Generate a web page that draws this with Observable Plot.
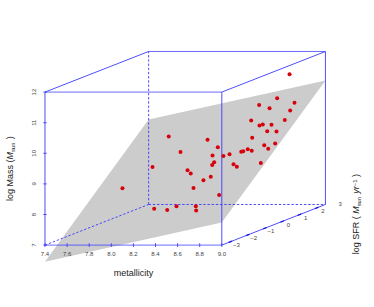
<!DOCTYPE html>
<html><head><meta charset="utf-8">
<script src="https://cdn.jsdelivr.net/npm/d3@7"></script>
<script src="https://cdn.jsdelivr.net/npm/@observablehq/plot@0.6"></script>
<style>html,body{margin:0;padding:0;background:#fff}svg{display:block}</style>
</head><body><div id="chart"></div>
<script>
// Axis ticks
const metTicks = [7.4,7.6,7.8,8.0,8.2,8.4,8.6,8.8,9.0];
const metLabels = ["7.4","7.6","7.8","8.0","8.2","8.4","8.6","8.8","9.0"];
const massTicks = [7,8,9,10,11,12];
const sfrTicks = [-3,-2,-1,0,1,2,3];
// Fitted plane: corners (metallicity, log SFR, log Mass)
const planeMet  = [7.4,7.4,9.0,9.0];
const planeSfr  = [-3,3,3,-3];
const planeMass = [6.46,9.78,11.05,7.74];
// Galaxies: position read on the front face of the box (projected metallicity, projected log mass)
const galaxyMet = [8.520,8.626,8.373,8.690,8.101,8.388,8.506,8.590,9.613,9.501,9.338,9.658,9.432,9.619,9.266,9.570,9.371,9.341,9.450,9.411,9.495,9.275,8.871,9.483,9.384,8.964,9.420,9.235,9.271,9.194,9.176,9.070,9.015,8.916,8.931,8.913,9.106,9.136,9.353,8.719,8.834,8.900,8.744,8.976,8.765,8.768];
const galaxyMass = [10.55,10.04,9.55,9.45,8.86,8.19,8.15,8.27,12.58,11.80,11.58,11.65,11.47,11.40,11.07,11.09,10.94,10.91,10.93,10.72,10.71,10.51,10.44,10.32,10.26,10.20,10.15,10.13,10.08,10.07,10.05,9.97,9.91,9.93,9.71,9.62,9.64,9.56,9.68,9.34,9.12,9.23,8.87,8.64,8.27,8.13];

// oblique projection of the SFR axis onto metallicity / mass
const U = (met,sfr) => met + (sfr+3)*0.1563;
const V = (mass,sfr) => mass + (sfr+3)*0.2212;
const seg = (a,b) => ({x1:U(a[0],a[2]),y1:V(a[1],a[2]),x2:U(b[0],b[2]),y2:V(b[1],b[2])});
const blue = "#3a3aff";
const L=7.4,R=9.0,B=7,T=12,F=-3,K=3;
const solid = [
  seg([L,B,F],[L,T,F]), seg([R,B,F],[R,T,F]),
  seg([L,T,F],[L,T,K]), seg([R,T,F],[R,T,K]), seg([R,B,F],[R,B,K]),
  seg([R,B,K],[R,T,K])
];
const pale = [ seg([L,B,F],[R,B,F]), seg([L,T,F],[R,T,F]), seg([L,T,K],[R,T,K]) ];
const dashed = [ seg([L,B,F],[L,B,K]), seg([L,B,K],[R,B,K]), seg([L,B,K],[L,T,K]) ];
const linkOpts = {x1:"x1",y1:"y1",x2:"x2",y2:"y2",stroke:blue};
const font = "Liberation Sans, Helvetica, Arial, sans-serif";

const plot = Plot.plot({
  width:374, height:307, margin:0,
  x:{domain:[6.9973,10.3819],range:[0,374],axis:null},
  y:{domain:[4.961,14.993],range:[307,0],axis:null},
  style:{background:"#fff",fontFamily:font},
  marks:[
    Plot.line(planeMet.map((m,i)=>({x:U(m,planeSfr[i]),y:V(planeMass[i],planeSfr[i])})),{x:"x",y:"y",fill:"#cccccc",stroke:"none"}),
    Plot.link(dashed,{...linkOpts,strokeWidth:0.9,strokeDasharray:"2.4,1.8"}),
    Plot.link(solid,{...linkOpts,strokeWidth:0.9}),
    Plot.link(pale,{...linkOpts,strokeWidth:1,strokeOpacity:0.75}),
    Plot.link(metTicks,{x1:d=>d,x2:d=>d,y1:()=>B-0.06,y2:()=>B+0.06,stroke:blue,strokeWidth:0.9}),
    Plot.link(massTicks,{x1:()=>L-0.015,x2:()=>L+0.015,y1:d=>d,y2:d=>d,stroke:blue,strokeWidth:0.9}),
    Plot.link(sfrTicks.slice(0,-1),{x1:d=>U(R,d+0.4),x2:d=>U(R,d+0.6),y1:d=>V(B,d+0.4),y2:d=>V(B,d+0.6),stroke:"#1a1ae0",strokeWidth:1.3}),
    Plot.dot(galaxyMet.map((m,i)=>({x:m,y:galaxyMass[i]})),{x:"x",y:"y",r:2,fill:"#d8000a",stroke:"none"}),
    Plot.text(metTicks,{x:d=>d,y:()=>B,text:(d,i)=>metLabels[i],dy:8.6,fontSize:6,fill:"#444"}),
    Plot.text(massTicks,{x:()=>L-0.1,y:d=>d,text:d=>String(d),rotate:-90,fontSize:6,fill:"#444"}),
    Plot.text(sfrTicks,{x:d=>U(R,d)+0.133,y:d=>V(B,d),text:d=>d<0?"\u2212"+(-d):String(d),fontSize:6,fill:"#444"}),
    Plot.text(["metallicity"],{x:()=>8.2,y:()=>6.1,text:d=>d,fontSize:9,fill:"#222"}),
    Plot.text(["log Mass"],{x:()=>7.088,y:()=>9.5,text:d=>d,rotate:-90,fontSize:9,fill:"#222"}),
    Plot.text(["log SFR"],{x:()=>10.219,y:()=>8.01,text:d=>d,rotate:-90,fontSize:9,fill:"#222"})
  ]
});
const sub = (s)=>`<tspan font-size="5.8" dy="1.6">${s}</tspan><tspan dy="-1.6">\u200a</tspan>`;
plot.querySelectorAll("text").forEach(t=>{
  if(t.textContent==="log Mass") t.innerHTML=`log Mass (<tspan font-style="italic">M</tspan>${sub("sun")} )`;
  if(t.textContent==="log SFR") t.innerHTML=`log SFR ( <tspan font-style="italic">M</tspan>${sub("sun")} <tspan font-style="italic">yr</tspan><tspan font-size="5.8" dy="-2.6">\u22121</tspan><tspan dy="2.6"> )</tspan>`;
});
document.getElementById("chart").append(plot);
</script></body></html>
